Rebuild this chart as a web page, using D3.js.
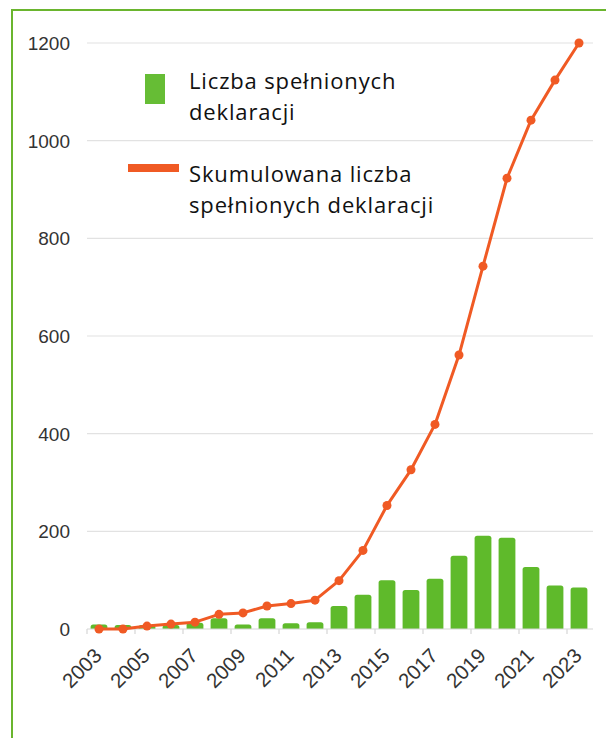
<!DOCTYPE html>
<html lang="pl">
<head>
<meta charset="UTF-8">
<title>Liczba spełnionych deklaracji</title>
<script src="https://d3js.org/d3.v7.min.js"></script>
<style>
    body { margin: 0; background: #fff; }
    svg { display: block; }
    .axis-label { font-family: Arial, "Liberation Sans", sans-serif; font-size: 19px; fill: #333; }
    .x-label { font-size: 20.5px; }
    .legend-text { font-family: "Open Sans", "Noto Sans", sans-serif; font-size: 22px; letter-spacing: 0.85px; fill: #111; }
</style>
</head>
<body>
<div id="chart"></div>
<script>
    // Data
    const years = ["2003","2004","2005","2006","2007","2008","2009","2010","2011","2012","2013",
                   "2014","2015","2016","2017","2018","2019","2020","2021","2022","2023"];
    const annual = [9, 8, 8, 8, 13, 22, 9, 22, 12, 14, 47, 70, 100, 80, 103, 150, 191, 187, 127, 89, 85];
    const cumulative = [0, 0, 6, 10, 14, 30, 33, 47, 52, 59, 99, 161, 253, 326, 419, 561, 743, 923, 1042, 1124, 1200];
    const yTicks = [0, 200, 400, 600, 800, 1000, 1200];
    const xTickLabels = ["2003","2005","2007","2009","2011","2013","2015","2017","2019","2021","2023"];
    const legendBars = ["Liczba spełnionych", "deklaracji"];
    const legendLine = ["Skumulowana liczba", "spełnionych deklaracji"];

    const W = 606, H = 738;
    const green = "#5fba2b", orange = "#f05a24", frame = "#6ab52e";

    const svg = d3.select("#chart").append("svg")
        .attr("width", W)
        .attr("height", H);

    // Green frame (only top and left edge are visible)
    svg.append("path")
        .attr("d", `M12,${H} L12,10 L${W},10`)
        .attr("fill", "none")
        .attr("stroke", frame)
        .attr("stroke-width", 2);

    const x = d3.scaleBand()
        .domain(years)
        .range([87, 591])
        .paddingInner(0.3)
        .paddingOuter(0.15);

    const y = d3.scaleLinear()
        .domain([0, 1200])
        .range([629, 43]);

    // Gridlines
    svg.append("g")
        .selectAll("line")
        .data(yTicks.filter(d => d > 0))
        .enter()
        .append("line")
        .attr("x1", 87).attr("x2", 593)
        .attr("y1", d => y(d)).attr("y2", d => y(d))
        .attr("stroke", "#e2e2e2")
        .attr("stroke-width", 1.2);

    // Y axis labels
    svg.append("g")
        .selectAll("text")
        .data(yTicks)
        .enter()
        .append("text")
        .attr("class", "axis-label")
        .attr("x", 70)
        .attr("y", d => y(d) + 7)
        .attr("text-anchor", "end")
        .text(d => d);

    // Bars with rounded tops
    const r = 2.5;
    svg.append("g")
        .selectAll("path")
        .data(years)
        .enter()
        .append("path")
        .attr("fill", green)
        .attr("d", (d, i) => {
            const x0 = x(d), w = x.bandwidth(), y0 = y(annual[i]), yb = y(0);
            return `M${x0},${yb} L${x0},${y0 + r} Q${x0},${y0} ${x0 + r},${y0} ` +
                   `L${x0 + w - r},${y0} Q${x0 + w},${y0} ${x0 + w},${y0 + r} L${x0 + w},${yb} Z`;
        });

    // Baseline and x ticks
    const step = x.step();
    const start = x.range()[0];
    svg.append("line")
        .attr("x1", 87).attr("x2", 593)
        .attr("y1", y(0)).attr("y2", y(0))
        .attr("stroke", "#d6d6d6")
        .attr("stroke-width", 1.2);

    svg.append("g")
        .selectAll("line")
        .data(xTickLabels)
        .enter()
        .append("line")
        .attr("x1", d => start + years.indexOf(d) * step)
        .attr("x2", d => start + years.indexOf(d) * step)
        .attr("y1", y(0)).attr("y2", y(0) + 5)
        .attr("stroke", "#d6d6d6")
        .attr("stroke-width", 1.2);

    // X labels, rotated
    svg.append("g")
        .selectAll("text")
        .data(xTickLabels)
        .enter()
        .append("text")
        .attr("class", "axis-label x-label")
        .attr("text-anchor", "end")
        .attr("transform", d => {
            const cx = x(d) + x.bandwidth() / 2 + 4;
            return `translate(${cx},${y(0) + 28}) rotate(-45)`;
        })
        .text(d => d);

    // Cumulative line
    const line = d3.line()
        .x((d, i) => x(years[i]) + x.bandwidth() / 2)
        .y(d => y(d));

    svg.append("path")
        .datum(cumulative)
        .attr("d", line)
        .attr("fill", "none")
        .attr("stroke", orange)
        .attr("stroke-width", 3)
        .attr("stroke-linejoin", "round");

    svg.append("g")
        .selectAll("circle")
        .data(cumulative)
        .enter()
        .append("circle")
        .attr("cx", (d, i) => x(years[i]) + x.bandwidth() / 2)
        .attr("cy", d => y(d))
        .attr("r", 4.5)
        .attr("fill", orange);

    // Legend
    const legend = svg.append("g");
    legend.append("rect")
        .attr("x", 145).attr("y", 74)
        .attr("width", 20).attr("height", 30)
        .attr("fill", "#66bd35");
    legend.append("rect")
        .attr("x", 128).attr("y", 164)
        .attr("width", 51).attr("height", 8)
        .attr("fill", orange);

    legend.selectAll("text.l1")
        .data(legendBars)
        .enter()
        .append("text")
        .attr("class", "legend-text")
        .attr("x", 189)
        .attr("y", (d, i) => 89 + i * 31)
        .text(d => d);

    legend.selectAll("text.l2")
        .data(legendLine)
        .enter()
        .append("text")
        .attr("class", "legend-text")
        .attr("x", 189)
        .attr("y", (d, i) => 182 + i * 31)
        .text(d => d);
</script>
</body>
</html>
